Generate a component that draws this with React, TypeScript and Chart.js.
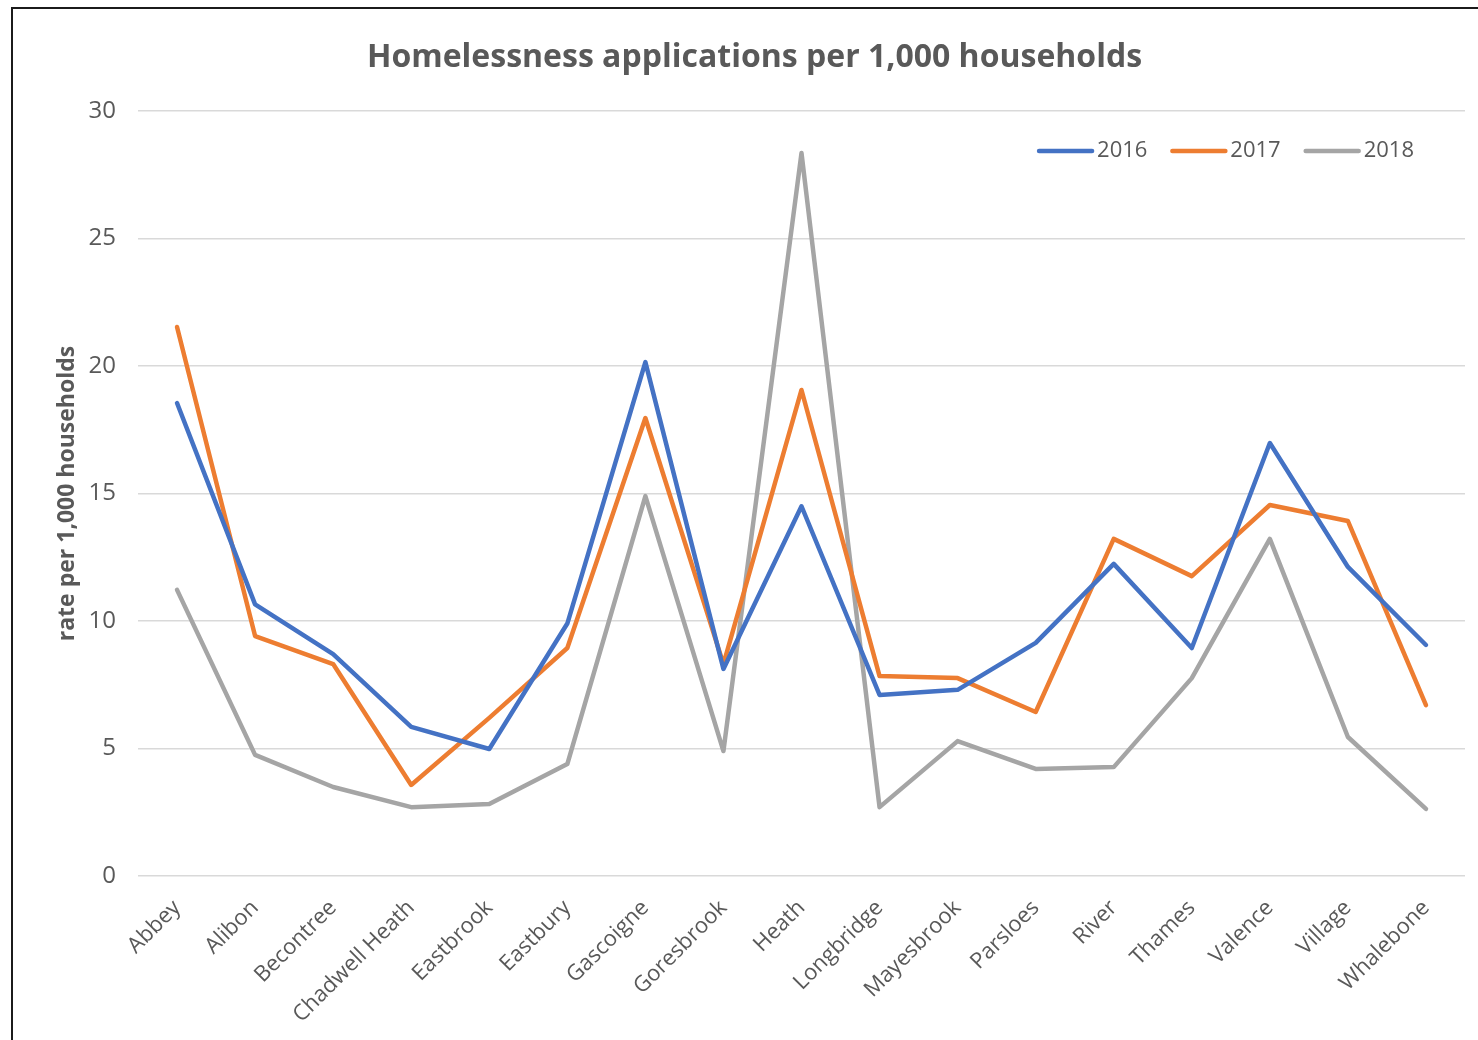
import React, { useEffect, useRef } from "react";
import { Chart, registerables } from "chart.js";

Chart.register(...registerables);

const wards = [
  "Abbey", "Alibon", "Becontree", "Chadwell Heath", "Eastbrook", "Eastbury",
  "Gascoigne", "Goresbrook", "Heath", "Longbridge", "Mayesbrook", "Parsloes",
  "River", "Thames", "Valence", "Village", "Whalebone",
];

const rate2016 = [18.55, 10.65, 8.7, 5.85, 4.98, 9.9, 20.15, 8.12, 14.5, 7.1, 7.3, 9.14, 12.24, 8.94, 16.98, 12.12, 9.06];
const rate2017 = [21.53, 9.41, 8.31, 3.57, 6.2, 8.94, 17.96, 8.31, 19.06, 7.84, 7.76, 6.43, 13.22, 11.76, 14.55, 13.92, 6.7];
const rate2018 = [11.22, 4.75, 3.49, 2.7, 2.82, 4.39, 14.9, 4.9, 28.35, 2.7, 5.29, 4.2, 4.27, 7.76, 13.22, 5.45, 2.63];

const seriesNames = ["2016", "2017", "2018"];
const seriesColors = ["#4472C4", "#ED7D31", "#A5A5A5"];

const chartTitle = "Homelessness applications per 1,000 households";
const yAxisTitle = "rate per 1,000 households";

const textColor = "#595959";
const fontFamily = "'Open Sans', 'Noto Sans', sans-serif";

// Title above the plot, slightly right of the canvas centre
const headerTitle = {
  id: "headerTitle",
  afterDraw(chart: any) {
    const { ctx, chartArea } = chart;
    ctx.save();
    ctx.font = `bold 32px ${fontFamily}`;
    ctx.fillStyle = textColor;
    ctx.textAlign = "center";
    ctx.textBaseline = "alphabetic";
    ctx.fillText(chartTitle, (chartArea.left + chartArea.right) / 2 - 47, chartArea.top - 44);
    ctx.restore();
  },
};

// Legend drawn as short line samples inside the top-right of the plot area
const inlineLegend = {
  id: "inlineLegend",
  afterDraw(chart: any) {
    const { ctx, chartArea } = chart;
    ctx.save();
    ctx.font = `22px ${fontFamily}`;
    ctx.textBaseline = "middle";
    ctx.textAlign = "left";
    const sample = 57;
    const gapText = 3;
    const gapItem = 23;
    const widths = chart.data.datasets.map((d: any) => ctx.measureText(d.label).width);
    let total = 0;
    widths.forEach((w: number, i: number) => {
      total += sample + gapText + w + (i < widths.length - 1 ? gapItem : 0);
    });
    let x = chartArea.right - 51 - total;
    const y = chartArea.top + 40;
    chart.data.datasets.forEach((d: any, i: number) => {
      ctx.strokeStyle = d.borderColor;
      ctx.lineWidth = 4.5;
      ctx.lineCap = "round";
      ctx.beginPath();
      ctx.moveTo(x + 2, y);
      ctx.lineTo(x + sample - 2, y);
      ctx.stroke();
      x += sample + gapText;
      ctx.fillStyle = textColor;
      ctx.fillText(d.label, x, y);
      x += widths[i] + gapItem;
    });
    ctx.restore();
  },
};

export default function App() {
  const canvasRef = useRef<HTMLCanvasElement | null>(null);

  useEffect(() => {
    if (!canvasRef.current) return;
    const values = [rate2016, rate2017, rate2018];
    const chart = new Chart(canvasRef.current, {
      type: "line",
      data: {
        labels: wards,
        datasets: seriesNames.map((name, i) => ({
          label: name,
          data: values[i],
          borderColor: seriesColors[i],
          backgroundColor: seriesColors[i],
          borderWidth: 4.5,
          pointRadius: 0,
          tension: 0,
          borderCapStyle: "round" as const,
          borderJoinStyle: "round" as const,
        })),
      },
      options: {
        animation: false,
        responsive: false,
        maintainAspectRatio: false,
        layout: { padding: { left: 0, right: 13, top: 111, bottom: 0 } },
        plugins: {
          legend: { display: false },
          tooltip: { enabled: false },
          title: { display: false },
        },
        scales: {
          x: {
            offset: true,
            grid: { display: false, drawTicks: false },
            border: { display: false },
            ticks: {
              color: textColor,
              font: { family: fontFamily, size: 22 },
              maxRotation: 45,
              minRotation: 45,
              autoSkip: false,
              padding: 19,
            },
            afterFit(scale: any) {
              scale.height = 164;
            },
          },
          y: {
            min: 0,
            max: 30,
            ticks: {
              stepSize: 5,
              color: textColor,
              font: { family: fontFamily, size: 24 },
              padding: 22,
            },
            grid: { color: "#D9D9D9", lineWidth: 1.5, drawTicks: false },
            border: { display: false },
            title: {
              display: true,
              text: yAxisTitle,
              color: textColor,
              font: { family: fontFamily, size: 23, weight: "bold" },
              padding: { top: 54, bottom: 0 },
            },
            afterFit(scale: any) {
              scale.width = 138;
            },
          },
        },
      },
      plugins: [headerTitle, inlineLegend],
    });
    return () => chart.destroy();
  }, []);

  return (
    <div style={{ position: "fixed", left: 0, top: 0, width: 1478, height: 1040, background: "#fff", overflow: "hidden" }}>
      <div
        style={{
          position: "absolute",
          left: 11,
          top: 7,
          width: 1500,
          height: 1100,
          borderLeft: "2px solid #1b1b1b",
          borderTop: "2px solid #1b1b1b",
        }}
      />
      <canvas ref={canvasRef} width={1478} height={1040} style={{ position: "absolute", left: 0, top: 0 }} />
    </div>
  );
}
